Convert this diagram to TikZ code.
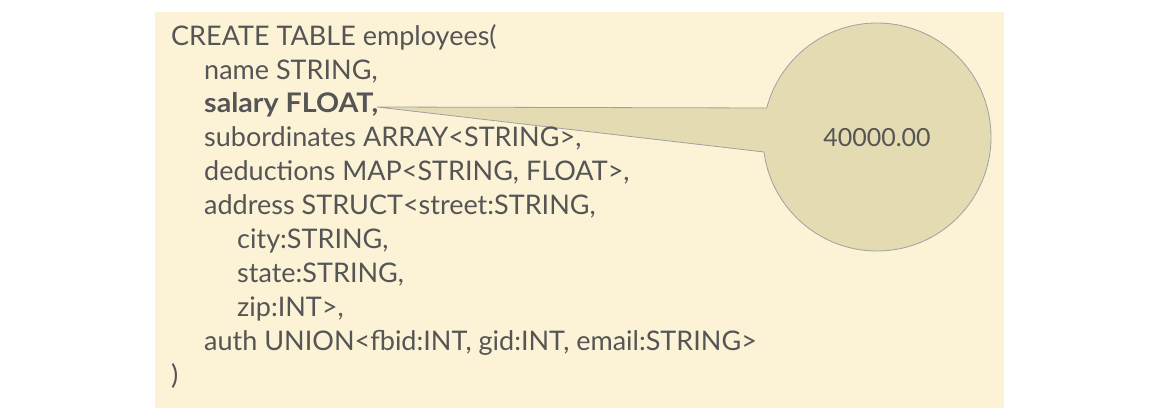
\documentclass[tikz,border=0pt]{standalone}
\usepackage{fontspec}
\setmainfont{Lato}
\definecolor{paper}{RGB}{252,243,215}
\definecolor{bubblefill}{RGB}{228,219,178}
\definecolor{edgegray}{RGB}{160,160,160}
\definecolor{ink}{RGB}{85,85,85}
\tikzset{
  codeline/.style={anchor=base west, inner sep=0pt, text=ink, font=\fontsize{27}{30}\selectfont},
}
\begin{document}
\begin{tikzpicture}[x=1pt,y=-1pt]
\useasboundingbox (0,0) rectangle (1168,419);
\fill[white] (0,0) rectangle (1168,419);
\fill[paper] (155,12) rectangle (1004,408);
% callout bubble
\node[circle, minimum size=228pt, inner sep=0pt, fill=bubblefill, draw=edgegray, line width=0.8pt] (bubble) at (877,137) {};
\coordinate (tip) at (377,107);
\coordinate (tu) at (766.75,108);
\coordinate (tl) at (764,152);
\fill[bubblefill] (tip) -- (tu) -- (805,108) -- (805,152) -- (tl) -- cycle;
\draw[edgegray, line width=0.8pt] (tu) -- (tip) -- (tl);
\node[codeline, anchor=base, font=\fontsize{25}{30}\selectfont] (val) at (877,147) {40000.00};
% code lines
\node[codeline] (l1) at (171,46) {CREATE TABLE employees(};
\node[codeline] (l2) at (204,80) {name STRING,};
\node[codeline] (l3) at (204,113) {\scalebox{1.06}[1]{\bfseries salary FLOAT,}};
\node[codeline] (l4) at (204,147) {subordinates ARRAY<STRING>,};
\node[codeline] (l5) at (204,181) {deductions MAP<STRING, FLOAT>,};
\node[codeline] (l6) at (204,215) {address STRUCT<street:STRING,};
\node[codeline] (l7) at (237,249) {city:STRING,};
\node[codeline] (l8) at (237,283) {state:STRING,};
\node[codeline] (l9) at (237,317) {zip:INT>,};
\node[codeline] (l10) at (204,351) {auth UNION<fbid:INT, gid:INT, email:STRING>};
\node[codeline] (l11) at (171,385) {)};
\end{tikzpicture}
\end{document}
